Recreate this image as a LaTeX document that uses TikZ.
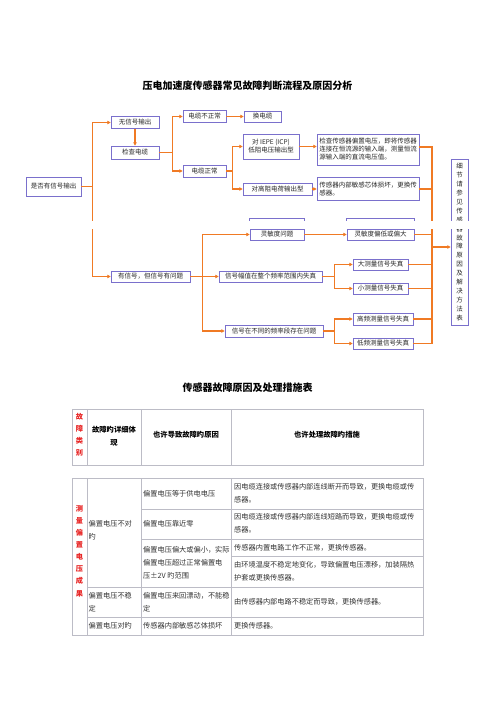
\documentclass[tikz,border=0pt]{standalone}
\usepackage{fontspec}
\newfontfamily\cjk{Noto Sans CJK SC}
\usetikzlibrary{arrows.meta}
\definecolor{flow}{RGB}{240,122,36}
\definecolor{boxline}{RGB}{122,112,204}
\definecolor{grid}{RGB}{188,188,198}
\definecolor{hdred}{RGB}{232,36,36}
\newcommand\flowfont{\cjk\fontsize{6.5}{8}\selectfont}
\newcommand\cellfont{\cjk\fontsize{7.2}{13}\selectfont}

\begin{document}
\begin{tikzpicture}[x=1pt, y=-1pt,
  box/.style 2 args={draw=boxline, line width=0.6pt, fill=white, inner sep=1pt,
    align=center, font=\flowfont, text=black!85,
    minimum width=#1, minimum height=#2},
  arr/.style={-{Triangle[length=3.4pt,width=3.4pt]}, draw=flow, line width=1.1pt},
  bus/.style={draw=flow, line width=1.1pt},
  grid/.style={draw=grid, line width=0.7pt},
  hd/.style={align=center, inner sep=0pt, font=\cjk\bfseries\fontsize{7.3}{13}\selectfont},
  red/.style={align=center, inner sep=0pt, text=hdred, font=\cjk\bfseries\fontsize{7.2}{12.1}\selectfont},
  cell/.style={anchor=west, align=left, inner sep=0pt, font=\cellfont, text=black!80}
]
\fill[white] (0,0) rectangle (496,702);
\useasboundingbox (0,0) rectangle (496,702);

% flow chart
\node[font=\cjk\bfseries\fontsize{10}{12}\selectfont] (title) at (247.5,86) {压电加速度传感器常见故障判断流程及原因分析};

\node[box={55}{19}] (ask) at (53.5,186.5) {是否有信号输出};
\node[box={48}{12}] (nosig) at (135,122.5) {无信号输出};
\node[box={48}{13}] (chk) at (135,152.5) {检查电缆};
\node[box={43}{12}] (bad) at (204.5,116.5) {电缆不正常};
\node[box={43}{12}] (good) at (204.5,171) {电缆正常};
\node[box={37}{11}] (swap) at (262.5,116.5) {换电缆};
\node[box={56}{25}] (iepe) at (271,146.5) {对 IEPE (ICP)\\低阻电压输出型};
\node[box={69}{12}] (hiz) at (277.5,189) {对高阻电荷输出型};
\node[box={102}{31}, align=left] (bias) at (368,149.5) {检查传感器偏置电压，即将传感器\\连接在恒流源的输入端，测量恒流\\源输入端的直流电压值。};
\node[box={102}{23}, align=left] (core) at (368,189) {传感器内部敏感芯体损坏，更换传\\感器。};

\node[box={79}{11}] (sig) at (150.5,276.5) {有信号，但信号有问题};
\node[box={54}{11}] (sens) at (277,234.5) {灵敏度问题};
\node[box={67}{11}] (senslow) at (380.5,234.5) {灵敏度偏低或偏大};
\node[box={103}{11}] (amp) at (270.5,276.5) {信号幅值在整个频率范围内失真};
\node[box={55}{11}] (big) at (380.5,264.5) {大测量信号失真};
\node[box={55}{11}] (small) at (380.5,288.5) {小测量信号失真};
\node[box={98}{12}] (freq) at (274,331) {信号在不同的频率段存在问题};
\node[box={60}{12}] (hf) at (383,319) {高频测量信号失真};
\node[box={60}{11}] (lf) at (383,343.5) {低频测量信号失真};
\node[box={17}{166}, font=\cjk\fontsize{6.5}{8.9}\selectfont] (tall) at (459.5,242)
  {细\\节\\请\\参\\见\\传\\感\\器\\故\\障\\原\\因\\及\\解\\决\\方\\法\\表};

\draw[draw=boxline, line width=0.6pt] ([yshift=10pt]sens.north west) rectangle (sens.north east);
\draw[draw=boxline, line width=0.6pt] ([yshift=10pt]senslow.north west) rectangle (senslow.north east);

\draw[arr] (ask.east) -- ++(11,0) |- (nosig.west);
\draw[arr] (ask.east) -- ++(11,0) |- (sig.west);
\draw[arr] (nosig) -- (chk);
\draw[arr] (chk.east) -- ++(13,0) |- (bad.west);
\draw[arr] (chk.east) -- ++(13,0) |- (good.west);
\draw[arr] (bad) -- (swap);
\draw[arr] (good.east) -- ++(6,0) |- (iepe.west);
\draw[arr] (good.east) -- ++(6,0) |- (hiz.west);
\draw[arr] (iepe.east) -- (iepe.east -| bias.west);
\draw[arr] (hiz) -- (core);

\draw[arr] (sig.east) -- ++(12,0) |- (sens.west);
\draw[arr] (sig.east) -- ++(12,0) |- (amp.west);
\draw[arr] (sig.east) -- ++(12,0) |- (freq.west);
\draw[arr] (sens) -- (senslow);
\draw[arr] (amp.east) -- ++(12,0) |- (big.west);
\draw[arr] (amp.east) -- ++(12,0) |- (small.west);
\draw[arr] (freq.east) -- ++(11,0) |- (hf.west);
\draw[arr] (freq.east) -- ++(11,0) |- (lf.west);

% right bus into the table note
\coordinate (bustop) at (432,147);
\coordinate (busout) at (432,247);
\draw[bus] (bias.east |- bustop) -- (bustop) |- (lf.east);
\foreach \n in {core,senslow,big,small,hf}
  \draw[bus] (\n.east) -- (\n.east -| bustop);
\draw[arr] (busout) -- (busout -| tall.west);

\fill[white] (80,221) rectangle (470,229);

% table
\node[font=\cjk\bfseries\fontsize{10}{12}\selectfont] (tabtitle) at (247.5,388) {传感器故障原因及处理措施表};

\draw[grid] (72,409) rectangle (423,465);
\foreach \x in {87,141,231}
  \draw[grid] (\x,409) -- (\x,465);
\node[red] (hcat) at (79.5,435) {故\\障\\类\\别};
\node[hd] (hshow) at (114,436) {故障旳详细体\\现};
\node[hd] (hcause) at (186,435) {也许导致故障旳原因};
\node[hd] (hfix) at (327,435) {也许处理故障旳措施};

\draw[grid] (72,478) rectangle (423,635);
\foreach \x in {87,141,231}
  \draw[grid] (\x,478) -- (\x,635);
\foreach \y in {509,539}
  \draw[grid] (141,\y) -- (423,\y);
\draw[grid] (231,556) -- (423,556);
\foreach \y in {587,617}
  \draw[grid] (87,\y) -- (423,\y);

\node[red] (bcat) at (79.5,551) {测\\量\\偏\\置\\电\\压\\成\\果};

\node[cell] (wrong) at (88.5,530) {偏置电压不对\\旳};
\node[cell] (unstab) at (88.5,602) {偏置电压不稳\\定};
\node[cell] (right) at (88.5,626) {偏置电压对旳};

\node[cell] (ca) at (143,493.5) {偏置电压等于供电电压};
\node[cell] (cb) at (143,524) {偏置电压靠近零};
\node[cell] (cc) at (143,563) {偏置电压偏大或偏小，实际\\偏置电压超过正常偏置电\\压±2V 旳范围};
\node[cell] (cd) at (143,602) {偏置电压来回漂动，不能稳\\定};
\node[cell] (ce) at (143,626) {传感器内部敏感芯体损坏};

\node[cell] (fa) at (234,493.5) {因电缆连接或传感器内部连线断开而导致，更换电缆或传\\感器。};
\node[cell] (fb) at (234,523.5) {因电缆连接或传感器内部连线短路而导致，更换电缆或传\\感器。};
\node[cell] (fc) at (234,547.5) {传感器内置电路工作不正常，更换传感器。};
\node[cell] (fd) at (234,571.5) {由环境温度不稳定地变化，导致偏置电压漂移，加装隔热\\护套或更换传感器。};
\node[cell] (fe) at (234,602) {由传感器内部电路不稳定而导致，更换传感器。};
\node[cell] (ff) at (234,626) {更换传感器。};
\end{tikzpicture}
\end{document}
